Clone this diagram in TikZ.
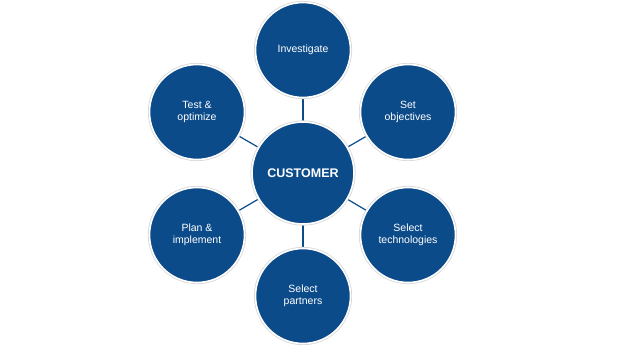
\documentclass[tikz,border=0pt]{standalone}
\usepackage{fontspec}
\setmainfont{Liberation Sans}
\usetikzlibrary{backgrounds}
\definecolor{cblue}{RGB}{12,75,138}
\definecolor{cedge}{RGB}{215,215,215}
\begin{document}
\begin{tikzpicture}[x=1pt,y=-1pt,
  ring/.style={circle,fill=cblue,draw=white,line width=1.6pt,minimum size=95pt,inner sep=0pt,
     text=white,align=center,font=\fontsize{10.5}{12.5}\selectfont,
     preaction={draw=cedge,line width=3.2pt}},
  hub/.style={ring,minimum size=102pt,font=\bfseries\fontsize{12.5}{14}\selectfont},
  link/.style={draw=cblue,line width=1.2pt}]
\useasboundingbox (0,0) rectangle (620,349);
\node[hub] (c) at (303,173) {CUSTOMER};
\node[ring] (i) at (303,50) {Investigate};
\node[ring] (s) at (408,112) {Set\\objectives};
\node[ring] (t) at (408,235) {Select\\technologies};
\node[ring] (p) at (303,296) {Select\\partners};
\node[ring] (m) at (197,235) {Plan \&\\implement};
\node[ring] (o) at (197,112) {Test \&\\optimize};
\begin{scope}[on background layer]
\foreach \n in {i,s,t,p,m,o} \draw[link] (c.center) -- (\n.center);
\end{scope}
\end{tikzpicture}
\end{document}
